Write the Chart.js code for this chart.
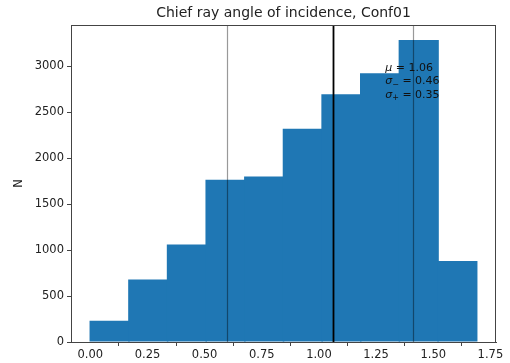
<!DOCTYPE html>
<html>
<head>
<meta charset="utf-8">
<script src="https://cdn.jsdelivr.net/npm/chart.js@4.4.1/dist/chart.umd.min.js"></script>
<style>
  body { margin: 0; background: #fff; }
  canvas { display: block; }
</style>
</head>
<body>
<canvas id="chartCanvas" width="510" height="363"></canvas>
<script>
// histogram data
const binEdges = [0, 0.169, 0.338, 0.507, 0.676, 0.845, 1.014, 1.183, 1.352, 1.521, 1.69];
const counts = [230, 680, 1060, 1765, 1800, 2320, 2695, 2925, 3285, 880];
const xTickLabels = ['0.00', '0.25', '0.50', '0.75', '1.00', '1.25', '1.50', '1.75'];
const yTickLabels = ['0', '500', '1000', '1500', '2000', '2500', '3000'];

// statistics
const mu = 1.06;
const sigmaMinus = 0.46;
const sigmaPlus = 0.35;

const titleText = 'Chief ray angle of incidence, Conf01';
const yLabel = 'N';

// bars drawn at bin centres
const barData = counts.map((c, i) => ({ x: (binEdges[i] + binEdges[i + 1]) / 2, y: c }));

// matplotlib-like 5% margins
const xLo = binEdges[0], xHi = binEdges[binEdges.length - 1];
const xPad = (xHi - xLo) * 0.05;
const yMax = Math.max(...counts) * 1.05;

const FONT = 'DejaVu Sans';
const TXT = '#222';

const extras = {
    id: 'extras',
    afterDatasetsDraw(chart) {
        const { ctx, chartArea: a, scales: { x, y } } = chart;
        ctx.save();

        // sigma lines and mean line
        const vline = (v, color, w) => {
            const px = Math.round(x.getPixelForValue(v)) + 0.5;
            ctx.beginPath();
            ctx.strokeStyle = color;
            ctx.lineWidth = w;
            ctx.moveTo(px, a.top);
            ctx.lineTo(px, a.bottom);
            ctx.stroke();
        };
        vline(mu - sigmaMinus, 'rgba(0,0,0,0.4)', 1.2);
        vline(mu + sigmaPlus, 'rgba(0,0,0,0.4)', 1.2);
        vline(mu, '#000', 1.8);

        // top and right spines
        ctx.strokeStyle = '#444';
        ctx.lineWidth = 1;
        ctx.strokeRect(a.left + 0.5, a.top + 0.5, a.right - a.left - 1, a.bottom - a.top);

        // stats text
        ctx.fillStyle = '#111';
        ctx.textBaseline = 'middle';
        ctx.textAlign = 'left';
        const tx = x.getPixelForValue(1.29);
        const ty = y.getPixelForValue(2980);
        const rows = [
            ['\u03bc', '', ' = ' + mu.toFixed(2)],
            ['\u03c3', '\u2212', ' = ' + sigmaMinus.toFixed(2)],
            ['\u03c3', '+', ' = ' + sigmaPlus.toFixed(2)]
        ];
        rows.forEach((r, i) => {
            const yy = ty + i * 13.5;
            let cx = tx;
            ctx.font = 'italic 11px "' + FONT + '"';
            ctx.fillText(r[0], cx, yy);
            cx += ctx.measureText(r[0]).width;
            if (r[1]) {
                ctx.font = '8px "' + FONT + '"';
                ctx.fillText(r[1], cx, yy + 3);
                cx += ctx.measureText(r[1]).width;
            }
            ctx.font = '11px "' + FONT + '"';
            ctx.fillText(r[2], cx, yy);
        });

        // title
        ctx.fillStyle = TXT;
        ctx.textAlign = 'center';
        ctx.font = '14px "' + FONT + '"';
        ctx.fillText(titleText, (a.left + a.right) / 2, 13);

        // y label
        ctx.translate(19, (a.top + a.bottom) / 2);
        ctx.rotate(-Math.PI / 2);
        ctx.font = '11.5px "' + FONT + '"';
        ctx.fillText(yLabel, 0, 0);
        ctx.restore();
    }
};

new Chart(document.getElementById('chartCanvas').getContext('2d'), {
    type: 'bar',
    data: {
        datasets: [{
            data: barData,
            backgroundColor: '#1f77b4',
            borderWidth: 0,
            barPercentage: 1.04,
            categoryPercentage: 1
        }]
    },
    options: {
        responsive: false,
        animation: false,
        devicePixelRatio: 1,
        layout: { padding: { top: 25, right: 14, left: 0, bottom: 0 } },
        plugins: { legend: { display: false }, tooltip: { enabled: false } },
        scales: {
            x: {
                type: 'linear',
                offset: false,
                min: xLo - xPad,
                max: xHi + xPad,
                afterFit: s => { s.height = 21; },
                afterBuildTicks: s => { s.ticks = xTickLabels.map(t => ({ value: parseFloat(t) })); },
                ticks: {
                    callback: (v) => xTickLabels.find(t => parseFloat(t) === v) || '',
                    font: { family: FONT, size: 11.5 },
                    color: TXT,
                    padding: 2,
                    maxRotation: 0
                },
                grid: { drawOnChartArea: false, drawTicks: true, tickLength: 4, color: '#444' },
                border: { display: true, color: '#444', width: 1 }
            },
            y: {
                min: 0,
                max: yMax,
                afterFit: s => { s.width = 71; },
                afterBuildTicks: s => { s.ticks = yTickLabels.map(t => ({ value: parseFloat(t) })); },
                ticks: {
                    callback: (v) => yTickLabels.find(t => parseFloat(t) === v) || '',
                    font: { family: FONT, size: 11.5 },
                    color: TXT,
                    padding: 3
                },
                grid: { drawOnChartArea: false, drawTicks: true, tickLength: 4, color: '#444' },
                border: { display: true, color: '#444', width: 1 }
            }
        }
    },
    plugins: [extras]
});
</script>
</body>
</html>
